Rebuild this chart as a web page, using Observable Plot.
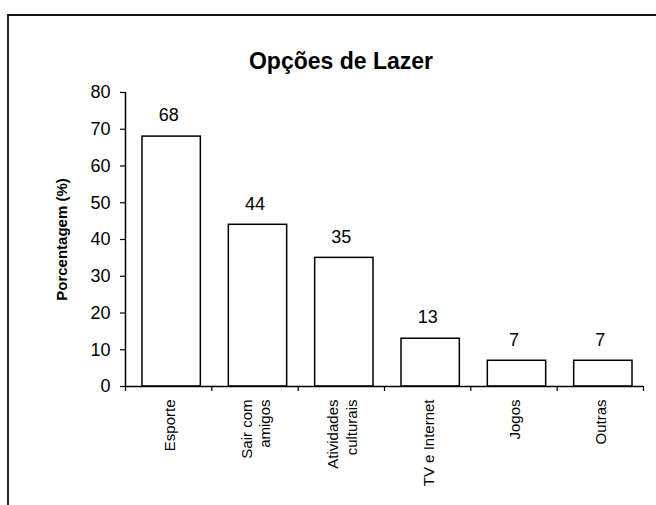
<!DOCTYPE html>
<html>
<head>
<meta charset="utf-8">
<script src="https://cdn.jsdelivr.net/npm/d3@7"></script>
<script src="https://cdn.jsdelivr.net/npm/@observablehq/plot@0.6"></script>
<style>
  html, body { margin: 0; padding: 0; background: #fff; }
  #wrap { position: relative; width: 656px; height: 505px; overflow: hidden; font-family: "Liberation Sans", Arial, sans-serif; }
  #frame { position: absolute; left: 7px; top: 14px; width: 660px; height: 600px; border-top: 2px solid #111; border-left: 2px solid #222; box-sizing: border-box; }
  #title { position: absolute; left: 0; top: 48px; width: 682px; text-align: center; font-weight: bold; font-size: 23px; color: #000; }
  #chart { position: absolute; left: 0; top: 0; }
</style>
</head>
<body>
<div id="wrap">
  <div id="chart"></div>
  <div id="frame"></div>
  <div id="title">Opções de Lazer</div>
</div>
<script>
const categories = ["Esporte", "Sair com\namigos", "Atividades\nculturais", "TV e Internet", "Jogos", "Outras"];
const values = [68, 44, 35, 13, 7, 7];
const yTicks = [0, 10, 20, 30, 40, 50, 60, 70, 80];
const yLabel = "Porcentagem (%)";

const data = categories.map((c, i) => ({i, category: c, value: values[i]}));
const boundaries = d3.range(0, categories.length + 1);

const chart = Plot.plot({
  width: 656,
  height: 505,
  marginLeft: 125,
  marginRight: 13,
  marginTop: 92,
  marginBottom: 119,
  style: {fontFamily: "'Liberation Sans', Arial, sans-serif", color: "#000", background: "transparent"},
  x: {type: "linear", domain: [0, categories.length]},
  y: {domain: [0, 80]},
  marks: [
    Plot.rectY(data, {x1: d => d.i, x2: d => d.i + 1, y: "value", insetLeft: 17, insetRight: 11, fill: "#fff", stroke: "#000", strokeWidth: 1.5}),
    Plot.ruleX([0], {stroke: "#000", strokeWidth: 1.5}),
    Plot.ruleY([0], {stroke: "#000", strokeWidth: 1.5}),
    Plot.axisY({ticks: yTicks, tickSize: 5, tickPadding: 10, fontSize: 18, label: null, strokeWidth: 1.2}),
    Plot.axisX({ticks: boundaries, tickSize: 5, tickFormat: () => "", label: null, strokeWidth: 1.2}),
    Plot.text(data, {x: d => d.i + 0.5, y: 0, text: "category", rotate: -90, textAnchor: "end", lineAnchor: "middle", lineHeight: 1.25, dy: 13, fontSize: 15, fill: "#000"}),
    Plot.text(data, {x: d => d.i + 0.5, y: "value", text: d => String(d.value), dy: -21, fontSize: 18, fill: "#000"}),
    Plot.text([yLabel], {frameAnchor: "left", dx: -63, rotate: -90, textAnchor: "middle", fontSize: 15, fontWeight: "bold", fill: "#000"})
  ]
});
document.getElementById("chart").appendChild(chart);
</script>
</body>
</html>
